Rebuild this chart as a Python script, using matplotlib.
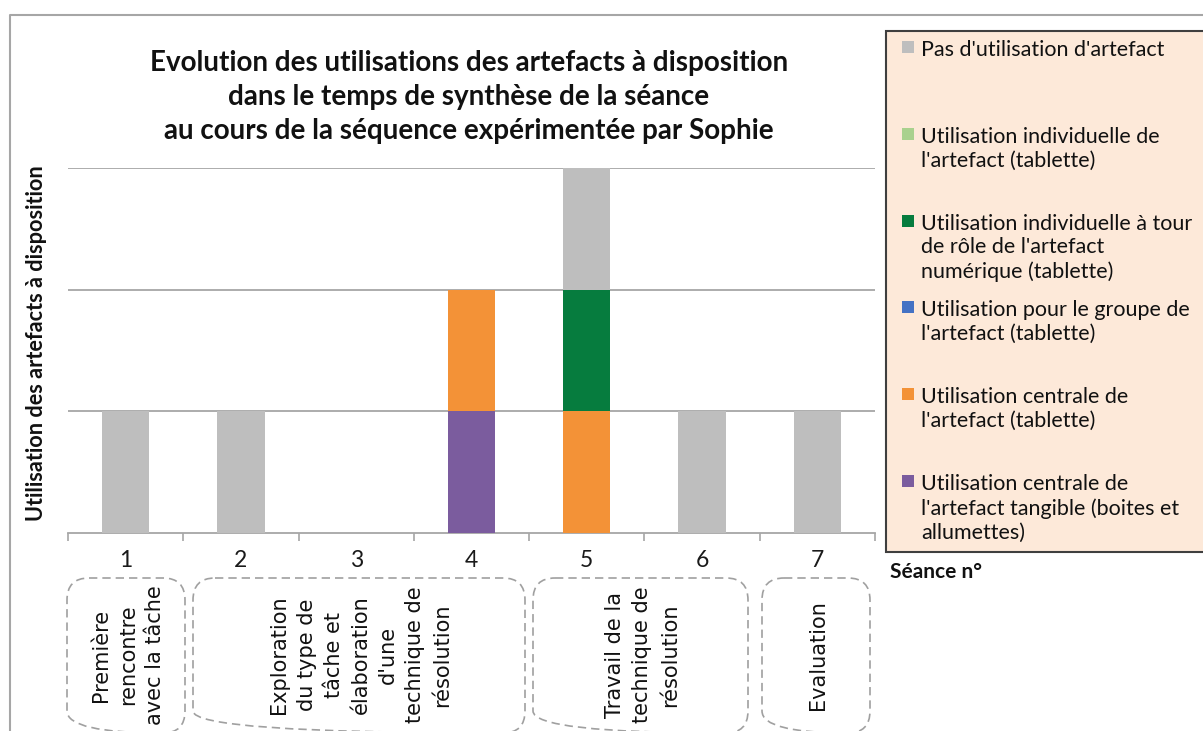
import matplotlib
matplotlib.use("Agg")
import matplotlib.pyplot as plt
from matplotlib.patches import Rectangle, FancyBboxPatch
from matplotlib.lines import Line2D

# ---- data -------------------------------------------------------------
seances = [1, 2, 3, 4, 5, 6, 7]

series_names = [
    "Pas d'utilisation d'artefact",
    "Utilisation individuelle de\nl'artefact (tablette)",
    "Utilisation individuelle à tour\nde rôle de l'artefact\nnumérique (tablette)",
    "Utilisation pour le groupe de\nl'artefact (tablette)",
    "Utilisation centrale de\nl'artefact (tablette)",
    "Utilisation centrale de\nl'artefact tangible (boites et\nallumettes)",
]
series_colors = ["#BEBEBE", "#A9D18E", "#067C3E", "#4472C4", "#F39237", "#7B5C9E"]

pas_utilisation = [1, 1, 0, 0, 1, 1, 1]
indiv_tablette = [0, 0, 0, 0, 0, 0, 0]
indiv_tour_role = [0, 0, 0, 0, 1, 0, 0]
groupe_tablette = [0, 0, 0, 0, 0, 0, 0]
centrale_tablette = [0, 0, 0, 1, 1, 0, 0]
centrale_tangible = [0, 0, 0, 1, 0, 0, 0]

series_values = [pas_utilisation, indiv_tablette, indiv_tour_role,
                 groupe_tablette, centrale_tablette, centrale_tangible]

phase_labels = [
    "Première\nrencontre\navec la tâche",
    "Exploration\ndu type de\ntâche et\nélaboration\nd'une\ntechnique de\nrésolution",
    "Travail de la\ntechnique de\nrésolution",
    "Evaluation",
]

title = ("Evolution des utilisations des artefacts à disposition\n"
         "dans le temps de synthèse de la séance\n"
         "au cours de la séquence expérimentée par Sophie")
ylabel = "Utilisation des artefacts à disposition"
xlabel = "Séance n°"

# ---- figure -----------------------------------------------------------
W, H = 1203, 731
fig = plt.figure(figsize=(W / 100, H / 100), dpi=100)

# pixel-coordinate overlay for frame, legend and phase boxes
ov = fig.add_axes([0, 0, 1, 1], zorder=0)
ov.set_xlim(0, W)
ov.set_ylim(H, 0)
ov.axis("off")

L, R, T, B = 68, 875, 168, 533
ax = fig.add_axes([L / W, 1 - B / H, (R - L) / W, (B - T) / H], zorder=2)
ax.patch.set_alpha(0)

# stacked columns, last series at the bottom
bottoms = [0] * len(seances)
for name, color, vals in reversed(list(zip(series_names, series_colors, series_values))):
    ax.bar(seances, vals, width=0.41, bottom=bottoms, color=color,
           edgecolor="none", zorder=3)
    bottoms = [b + v for b, v in zip(bottoms, vals)]

ax.set_xlim(0.5, 7.5)
ax.set_ylim(0, 3)
ax.set_yticks([1, 2, 3])
ax.set_yticklabels([])
ax.tick_params(axis="y", length=0)
ax.grid(axis="y", color="#A6A6A6", linewidth=1.3, zorder=1)
for s in ["left", "right", "top"]:
    ax.spines[s].set_visible(False)
ax.spines["bottom"].set_color("#A6A6A6")
ax.spines["bottom"].set_linewidth(1.3)
ax.set_xticks([i + 0.5 for i in range(0, 8)])
ax.set_xticklabels([])
ax.tick_params(axis="x", which="major", direction="out", length=6,
               color="#A6A6A6", width=1.2)
ax.set_xticks(seances, minor=True)
ax.set_xticklabels([str(s) for s in seances], minor=True,
                   fontfamily="Lato", fontsize=16.5, color="#1a1a1a")
ax.tick_params(axis="x", which="minor", length=0, pad=12)

# outer frame
ov.add_line(Line2D([10, 10, W + 5], [H + 5, 15, 15], color="#A6A6A6", lw=1.5))

# title and axis labels
ov.text(469, 97, title, ha="center", va="center", fontfamily="Lato",
        fontweight="bold", fontsize=20, linespacing=1.38, color="#111111")
ov.text(37, 343, ylabel, ha="center", va="center", rotation=90,
        fontfamily="Lato", fontweight="bold", fontsize=15.6, color="#111111")
ov.text(890, 572, xlabel, ha="left", va="center", fontfamily="Lato",
        fontweight="bold", fontsize=15, color="#111111")

# legend panel
ov.add_patch(Rectangle((886, 31), 340, 521, facecolor="#FDE9D9",
                       edgecolor="#3F3F3F", lw=1.5, zorder=1))
slot_top = 41
slot_h = 86.8
for i, (name, color) in enumerate(zip(series_names, series_colors)):
    y0 = slot_top + i * slot_h
    ov.add_patch(Rectangle((902, y0 + 0), 12, 12, facecolor=color,
                           edgecolor="none", zorder=2))
    ov.text(921, y0 - 1, name, ha="left", va="top", fontfamily="Lato",
            fontsize=15.5, linespacing=1.24, color="#111111", zorder=3)

# phase boxes below the axis
boxes = [(67, 185), (193, 525), (533, 748), (762, 870)]
for (x0, x1), lab in zip(boxes, phase_labels):
    ov.add_patch(FancyBboxPatch((x0, 578), x1 - x0, 155,
                                boxstyle="round,pad=0,rounding_size=22",
                                facecolor="none", edgecolor="#A0A0A0",
                                lw=1.2, linestyle=(0, (5, 3)), zorder=1))
    ov.text((x0 + x1) / 2 + 2, 655, lab, ha="center", va="center", rotation=90,
            multialignment="center", fontfamily="DejaVu Sans", fontsize=15,
            linespacing=1.45, color="#111111")

fig.savefig("out.png", dpi=100)
